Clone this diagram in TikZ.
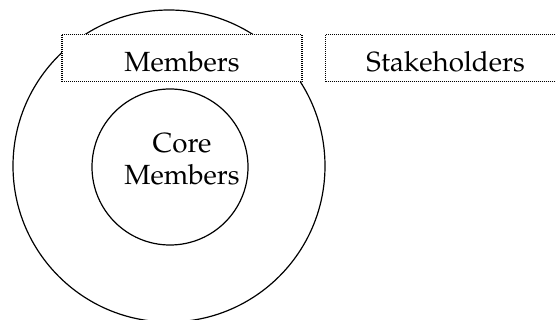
\documentclass[tikz,border=0pt]{standalone}
\usepackage[T1]{fontenc}
\usepackage{mathpazo}
\tikzset{
	ring/.style={draw,shape=circle,line width=0.9pt,inner sep=0pt},
	group/.style={draw,fill=white,line width=1pt,dash pattern=on 0.8pt off 0.7pt,
		minimum width=180pt,minimum height=35.5pt,inner sep=0pt,text height=20.5pt,text depth=0pt},
}
\begin{document}
\begin{tikzpicture}[x=0.75pt,y=-0.75pt,font=\fontsize{20.8}{24.2}\selectfont]
	\useasboundingbox (0,0) rectangle (556,320);
	% outer and inner rings
	\node[ring,minimum size=234pt] (MR) at (169,166) {};
	\node[ring,minimum size=117pt] (CR) at (170,167) {};
	\node[align=center,inner sep=0pt] (CL) at (182,159) {Core\\Members};

	% dotted labels on top
	\node[group] (MB) at (182,58) {Members};
	\node[group] (SB) at (445.7,58) {Stakeholders};
\end{tikzpicture}
\end{document}
